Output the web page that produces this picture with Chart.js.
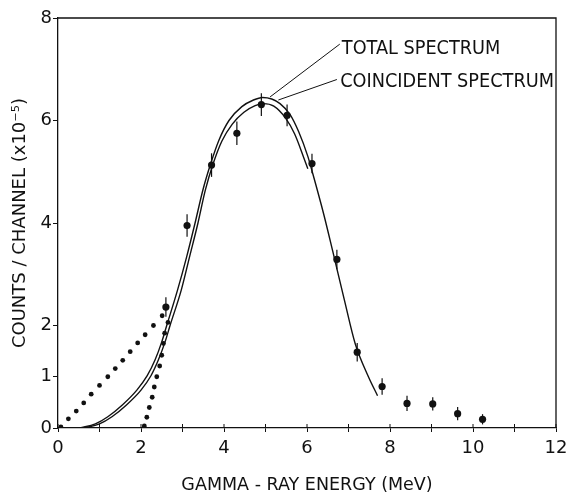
<!DOCTYPE html>
<html>
<head>
<meta charset="utf-8">
<script src="https://cdn.jsdelivr.net/npm/chart.js@4.4.1/dist/chart.umd.min.js"></script>
<style>
  html, body { margin: 0; padding: 0; background: #fff; }
  #wrap { width: 570px; height: 502px; }
</style>
</head>
<body>
<div id="wrap"><canvas id="spectrum" width="570" height="502"></canvas></div>
<script>
// measured points (MeV, counts x1e-5) with errors
const measEnergy = [2.60, 3.11, 3.70, 4.31, 4.90, 5.52, 6.12, 6.72, 7.21, 7.81, 8.41, 9.03, 9.63, 10.23];
const measCounts = [2.36, 3.95, 5.13, 5.75, 6.31, 6.10, 5.16, 3.29, 1.48, 0.81, 0.48, 0.47, 0.28, 0.17];
const measError  = [0.19, 0.22, 0.23, 0.23, 0.22, 0.21, 0.19, 0.19, 0.18, 0.16, 0.15, 0.13, 0.13, 0.10];

// total spectrum fit (outer curve)
const totalEnergy = [0.53, 0.90, 1.20, 1.55, 1.90, 2.15, 2.34, 2.50, 2.62, 2.88, 3.10, 3.30, 3.49, 3.68, 3.88, 4.12, 4.43, 4.71, 4.93, 5.15, 5.35, 5.59, 5.80, 6.02, 6.14, 6.40, 6.62, 6.90, 7.16, 7.48, 7.70];
const totalCounts = [0.00, 0.08, 0.22, 0.45, 0.74, 1.02, 1.33, 1.68, 2.00, 2.69, 3.34, 3.99, 4.64, 5.16, 5.62, 6.00, 6.27, 6.40, 6.45, 6.42, 6.33, 6.12, 5.78, 5.30, 4.96, 4.18, 3.45, 2.50, 1.65, 1.00, 0.63];

// coincident spectrum fit (inner curve, runs into the outer one under the 6.1 MeV point)
const coincEnergy = [0.63, 1.00, 1.30, 1.65, 2.00, 2.24, 2.42, 2.58, 2.70, 2.97, 3.17, 3.37, 3.55, 3.74, 3.95, 4.20, 4.48, 4.75, 4.95, 5.20, 5.48, 5.70, 5.92, 6.02];
const coincCounts = [0.00, 0.08, 0.22, 0.45, 0.74, 1.02, 1.33, 1.68, 2.00, 2.69, 3.34, 3.99, 4.64, 5.16, 5.60, 5.93, 6.16, 6.29, 6.33, 6.28, 6.05, 5.74, 5.28, 5.06];

// dotted low-energy components
const dotsAEnergy = [0.07, 0.25, 0.44, 0.62, 0.80, 1.00, 1.20, 1.38, 1.56, 1.74, 1.92, 2.10, 2.30, 2.51];
const dotsACounts = [0.02, 0.18, 0.33, 0.49, 0.66, 0.83, 1.00, 1.16, 1.32, 1.49, 1.66, 1.82, 2.00, 2.19];
const dotsBEnergy = [2.08, 2.14, 2.20, 2.27, 2.32, 2.38, 2.45, 2.50, 2.54, 2.57, 2.65];
const dotsBCounts = [0.04, 0.21, 0.40, 0.60, 0.80, 1.00, 1.21, 1.42, 1.65, 1.85, 2.06];

// axis ticks
const xTickLabels = [0, 2, 4, 6, 8, 10, 12];
const yTickValues = [0, 1, 2, 4, 6, 8];

const ink = '#111';
const fontFamily = '"DejaVu Sans", sans-serif';

function pairs(xs, ys) {
    return xs.map((x, i) => ({ x: x, y: ys[i] }));
}

// top + right frame, and the inward half of the x ticks
const framePlugin = {
    id: 'frame',
    afterDraw(chart) {
        const { ctx, chartArea: a, scales } = chart;
        ctx.save();
        ctx.strokeStyle = ink;
        ctx.lineWidth = 1.3;
        ctx.beginPath();
        ctx.moveTo(a.left, a.top);
        ctx.lineTo(a.right, a.top);
        ctx.lineTo(a.right, a.bottom);
        ctx.stroke();
        ctx.lineWidth = 1;
        scales.x.ticks.forEach(t => {
            const px = scales.x.getPixelForValue(t.value);
            ctx.beginPath();
            ctx.moveTo(px, a.bottom);
            ctx.lineTo(px, a.bottom - 4);
            ctx.stroke();
        });
        ctx.restore();
    }
};

// vertical error bars for the measured set
const errorBarPlugin = {
    id: 'errorBars',
    beforeDatasetsDraw(chart) {
        const { ctx, scales } = chart;
        ctx.save();
        ctx.strokeStyle = ink;
        ctx.lineWidth = 1.2;
        measEnergy.forEach((e, i) => {
            const px = scales.x.getPixelForValue(e);
            ctx.beginPath();
            ctx.moveTo(px, scales.y.getPixelForValue(measCounts[i] - measError[i]));
            ctx.lineTo(px, scales.y.getPixelForValue(measCounts[i] + measError[i]));
            ctx.stroke();
        });
        ctx.restore();
    }
};

// curve labels with leader lines (anchored in data units)
const calloutPlugin = {
    id: 'callouts',
    afterDraw(chart) {
        const { ctx, scales: { x, y } } = chart;
        const items = [
            { text: 'TOTAL SPECTRUM', tx: 6.84, ty: 7.29, from: [6.79, 7.49], to: [5.11, 6.46] },
            { text: 'COINCIDENT SPECTRUM', tx: 6.80, ty: 6.66, from: [6.72, 6.80], to: [5.31, 6.40] }
        ];
        ctx.save();
        ctx.strokeStyle = ink;
        ctx.fillStyle = ink;
        ctx.lineWidth = 1;
        ctx.font = '19.7px "DejaVu Sans Condensed", "DejaVu Sans", sans-serif';
        ctx.textBaseline = 'alphabetic';
        items.forEach(it => {
            ctx.beginPath();
            ctx.moveTo(x.getPixelForValue(it.from[0]), y.getPixelForValue(it.from[1]));
            ctx.lineTo(x.getPixelForValue(it.to[0]), y.getPixelForValue(it.to[1]));
            ctx.stroke();
            ctx.fillText(it.text, x.getPixelForValue(it.tx), y.getPixelForValue(it.ty));
        });
        ctx.restore();
    }
};

const ctx = document.getElementById('spectrum').getContext('2d');
new Chart(ctx, {
    type: 'line',
    data: {
        datasets: [
            {
                label: 'Measured',
                data: pairs(measEnergy, measCounts),
                showLine: false,
                pointRadius: 3.6,
                pointBackgroundColor: ink,
                pointBorderWidth: 0
            },
            {
                label: 'Dots A',
                data: pairs(dotsAEnergy, dotsACounts),
                showLine: false,
                pointRadius: 2.4,
                pointBackgroundColor: ink,
                pointBorderWidth: 0
            },
            {
                label: 'Dots B',
                data: pairs(dotsBEnergy, dotsBCounts),
                showLine: false,
                pointRadius: 2.4,
                pointBackgroundColor: ink,
                pointBorderWidth: 0
            },
            {
                label: 'Total spectrum',
                data: pairs(totalEnergy, totalCounts),
                borderColor: ink,
                borderWidth: 1.4,
                pointRadius: 0,
                cubicInterpolationMode: 'monotone',
                fill: false
            },
            {
                label: 'Coincident spectrum',
                data: pairs(coincEnergy, coincCounts),
                borderColor: ink,
                borderWidth: 1.4,
                pointRadius: 0,
                cubicInterpolationMode: 'monotone',
                fill: false
            }
        ]
    },
    options: {
        responsive: false,
        animation: false,
        layout: { padding: { top: 18, right: 14, left: 0, bottom: 0 } },
        plugins: {
            legend: { display: false },
            tooltip: { enabled: false }
        },
        scales: {
            x: {
                type: 'linear',
                min: 0,
                max: 12,
                ticks: {
                    stepSize: 1,
                    color: ink,
                    padding: 6,
                    maxRotation: 0,
                    font: { family: fontFamily, size: 18 },
                    callback: v => xTickLabels.includes(v) ? String(v) : ''
                },
                grid: { drawOnChartArea: false, tickLength: 4, color: ink },
                border: { color: ink, width: 1.3 },
                title: {
                    display: true,
                    text: 'GAMMA - RAY ENERGY (MeV)',
                    color: ink,
                    font: { family: fontFamily, size: 17.5 },
                    padding: { top: 0, bottom: 6 }
                },
                afterFit: s => { s.height = 74; s.paddingRight = 12; }
            },
            y: {
                type: 'linear',
                min: 0,
                max: 8,
                afterBuildTicks: s => { s.ticks = yTickValues.map(v => ({ value: v })); },
                ticks: {
                    color: ink,
                    padding: 1,
                    font: { family: fontFamily, size: 18 }
                },
                grid: { drawOnChartArea: false, tickLength: 5, color: ink },
                border: { color: ink, width: 1.3 },
                title: {
                    display: true,
                    text: 'COUNTS / CHANNEL (x10⁻⁵)',
                    color: ink,
                    font: { family: fontFamily, size: 18 },
                    padding: { top: 10, bottom: 0 }
                },
                afterFit: s => { s.width = 58; }
            }
        }
    },
    plugins: [framePlugin, errorBarPlugin, calloutPlugin]
});
</script>
</body>
</html>
